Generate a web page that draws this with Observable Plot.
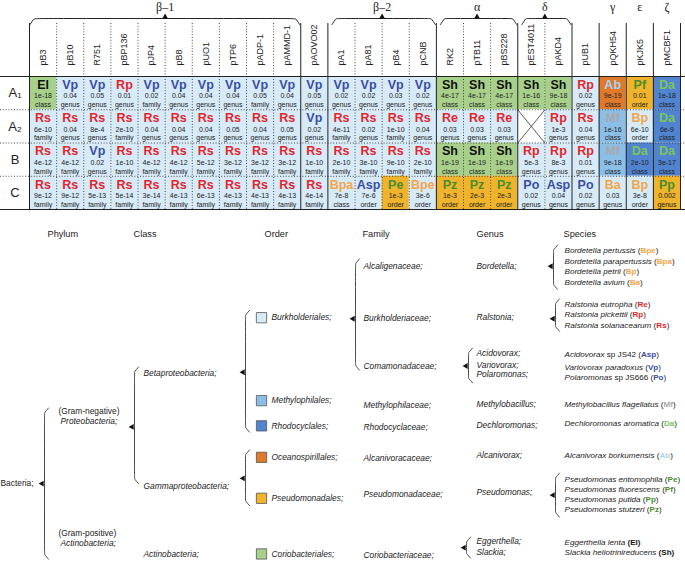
<!DOCTYPE html>
<html><head><meta charset="utf-8">
<script src="https://cdn.jsdelivr.net/npm/d3@7"></script>
<script src="https://cdn.jsdelivr.net/npm/@observablehq/plot@0.6"></script>
<style>
body{margin:0;background:#fff;}
#chart{width:685px;height:566px;overflow:hidden;}
#chart svg{display:block;}
</style></head><body><div id="chart"></div>
<script>
// ---------------- DATA ----------------
const plasmids = ["pB3","pB10","R751","pBP136","pJP4","pB8","pUO1","pTP6","pADP-1","pAMMD-1","pAOVO02","pA1","pA81","pB4","pCNB","RK2","pTB11","pBS228","pEST4011","pAKD4","pUB1","pQKH54","pKJK5","pMCBF1"];
const plasmidGroup = ["b1","b1","b1","b1","b1","b1","b1","b1","b1","b1","aovo","b2","b2","b2","b2","a","a","a","d","d","ub1","g","e","z"];
const groupLabels = [
  {group:"b1", label:"β–1", brace:true},
  {group:"b2", label:"β–2", brace:true},
  {group:"a", label:"α", brace:true},
  {group:"d", label:"δ", brace:true},
  {group:"g", label:"γ", brace:false},
  {group:"e", label:"ε", brace:false},
  {group:"z", label:"ζ", brace:false}
];
const rowLabels = ["A₁","A₂","B","C"];

const hostA1 = ["El","Vp","Vp","Rp","Vp","Vp","Vp","Vp","Vp","Vp","Vp","Vp","Vp","Vp","Vp","Sh","Sh","Sh","Sh","Sh","Rp","Ab","Pf","Da"];
const valA1  = ["1e-18","0.04","0.05","0.01","0.02","0.04","0.04","0.04","0.05","0.04","0.05","0.02","0.02","0.03","0.02","4e-17","4e-17","4e-17","1e-16","9e-18","0.02","9e-19","0.01","1e-18"];
const rankA1 = ["class","genus","genus","genus","family","genus","genus","genus","family","genus","genus","genus","genus","genus","genus","class","class","class","class","class","genus","class","order","class"];

const hostA2 = ["Rs","Rs","Rs","Rs","Rs","Rs","Rs","Rs","Rs","Rs","Vp","Rs","Rs","Rs","Rs","Re","Re","Re",null,"Rp","Rs","Mf","Bp","Da"];
const valA2  = ["6e-10","0.04","8e-4","2e-10","0.04","0.04","0.04","0.05","0.04","0.05","0.02","4e-11","0.02","1e-10","0.04","0.03","0.03","0.03",null,"1e-3","0.04","1e-16","6e-10","6e-9"];
const rankA2 = ["family","genus","genus","family","genus","genus","genus","genus","genus","genus","genus","family","genus","family","genus","genus","genus","genus",null,"genus","genus","class","order","class"];

const hostB = ["Rs","Rs","Vp","Rs","Rs","Rs","Rs","Rs","Rs","Rs","Rs","Rs","Rs","Rs","Rs","Sh","Sh","Sh","Rp","Rp","Rp","Mf","Da","Da"];
const valB  = ["4e-12","4e-12","0.02","1e-10","4e-12","4e-12","5e-12","3e-12","3e-12","3e-12","1e-10","2e-10","3e-10","9e-10","2e-10","1e-19","1e-19","1e-19","5e-3","8e-3","0.01","9e-18","2e-10","3e-17"];
const rankB = ["family","family","genus","family","family","family","family","family","family","family","family","family","family","family","family","class","class","class","genus","genus","genus","class","class","class"];

const hostC = ["Rs","Rs","Rs","Rs","Rs","Rs","Rs","Rs","Rs","Rs","Rs","Bpa","Asp","Pe","Bpe","Pz","Pz","Pz","Po","Asp","Po","Ba","Bp","Pp"];
const valC  = ["9e-12","9e-12","5e-13","5e-14","3e-14","4e-13","6e-13","4e-13","4e-13","4e-13","4e-14","7e-8","7e-6","1e-3","3e-6","1e-3","2e-3","2e-3","0.02","0.04","0.02","0.03","3e-8","0.002"];
const rankC = ["family","family","family","family","family","family","family","family","family","family","family","class","order","order","order","order","order","order","genus","genus","genus","genus","order","genus"];

// taxonomy
const orderOf = {Bpe:"Burkholderiales",Bpa:"Burkholderiales",Bp:"Burkholderiales",Ba:"Burkholderiales",Re:"Burkholderiales",Rp:"Burkholderiales",Rs:"Burkholderiales",Asp:"Burkholderiales",Vp:"Burkholderiales",Po:"Burkholderiales",Mf:"Methylophilales",Da:"Rhodocyclales",Ab:"Oceanospirillales",Pe:"Pseudomonadales",Pf:"Pseudomonadales",Pp:"Pseudomonadales",Pz:"Pseudomonadales",El:"Coriobacteriales",Sh:"Coriobacteriales"};
const orderColor = {Burkholderiales:"#d7eaf7",Methylophilales:"#8cbfe8",Rhodocyclales:"#5083d0",Oceanospirillales:"#df7a2c",Pseudomonadales:"#f0b42c",Coriobacteriales:"#a8d08b"};
const abbrColor = {Bpe:"#f3a548",Bpa:"#f3a548",Bp:"#f3a548",Ba:"#f3a548",Re:"#e2262e",Rp:"#e2262e",Rs:"#e2262e",Asp:"#3a4ea3",Vp:"#3a4ea3",Po:"#3a4ea3",Mf:"#a8a8a8",Da:"#7cc55a",Ab:"#a8d3ee",Pe:"#4a8d2c",Pf:"#4a8d2c",Pp:"#4a8d2c",Pz:"#4a8d2c",El:"#111",Sh:"#111"};

// tree
const treeHeaders = ["Phylum","Class","Order","Family","Genus","Species"];
const phylumGram = ["(Gram-negative)","(Gram-positive)"];
const phylumNames = ["Proteobacteria;","Actinobacteria;"];
const phylumLines = [16.3, 27.9];
const classNames = ["Betaproteobacteria;","Gammaproteobacteria;","Actinobacteria;"];
const classLines = [11.7, 22.5, 28.9];
const orderKeys = ["Burkholderiales","Methylophilales","Rhodocyclales","Oceanospirillales","Pseudomonadales","Coriobacteriales"];
const orderLines = [6.4, 14.3, 16.7, 19.7, 23.6, 28.9];
const familyNames = ["Alcaligenaceae;","Burkholderiaceae;","Comamonadaceae;","Methylophilaceae;","Rhodocyclaceae;","Alcanivoracaceae;","Pseudomonadaceae;","Coriobacteriaceae;"];
const familyLines = [1.5, 6.5, 11.0, 14.7, 16.8, 19.8, 23.2, 29.0];
const genusNames = ["Bordetella;","Ralstonia;","Acidovorax;","Variovorax;","Polaromonas;","Methylobacillus;","Dechloromonas;","Alcanivorax;","Pseudomonas;","Eggerthella;","Slackia;"];
const genusLines = [1.5, 6.4, 9.8, 10.9, 11.8, 14.6, 16.6, 19.5, 23.0, 27.7, 28.7];
const speciesNames = ["Bordetella pertussis","Bordetella parapertussis","Bordetella petrii","Bordetella avium","Ralstonia eutropha","Ralstonia pickettii","Ralstonia solanacearum","Acidovorax sp JS42","Variovorax paradoxus","Polaromonas sp JS666","Methylobacillus flagellatus","Dechloromonas aromatica","Alcanivorax borkumensis","Pseudomonas entomophila","Pseudomonas fluorescens","Pseudomonas putida","Pseudomonas stutzeri","Eggerthella lenta","Slackia heliotrinireducens"];
const speciesAbbr = ["Bpe","Bpa","Bp","Ba","Re","Rp","Rs","Asp","Vp","Po","Mf","Da","Ab","Pe","Pf","Pp","Pz","El","Sh"];
const speciesLines = [0, 1, 2, 3, 5.1, 6.1, 7.1, 9.9, 11.1, 12.1, 14.7, 16.5, 19.5, 21.8, 22.8, 23.7, 24.7, 27.8, 28.8];

// ---------------- LAYOUT ----------------
const FONT = "'Liberation Sans', Arial, Helvetica, sans-serif";
const ROW = 33.25;             // px per table row
const TOP = 76;                // px of table top
const u = px => px / ROW;      // px -> row units (header offsets)
const LINE = 10.5;             // px per tree text line
const TFS = 8.4;               // tree font size
const levelX = {kingdom:0, phylum:58, class:143, orderBox:261, order:271, family:363, genus:476, species:564};
const headerX = [47,133,264,362,476,563];

// ---------------- TABLE ----------------
const hosts = [hostA1, hostA2, hostB, hostC], vals = [valA1, valA2, valB, valC], ranks = [rankA1, rankA2, rankB, rankC];
const cells = [];
rowLabels.forEach((lab, r) => plasmids.forEach((p, i) => cells.push({i, r, host: hosts[r][i], val: vals[r][i], rank: ranks[r][i]})));
const filled = cells.filter(d => d.host);
const empty = cells.filter(d => !d.host);

const bounds = d3.range(plasmids.length + 1).map(i => ({
  i, solid: i === 0 || i === plasmids.length || plasmidGroup[i] !== plasmidGroup[i - 1]
}));
const groups = groupLabels.map(g => {
  const idx = plasmids.map((p, i) => i).filter(i => plasmidGroup[i] === g.group);
  return {...g, s: d3.min(idx), e: d3.max(idx) + 1};
});
const braceY = u(18 - TOP), braceEndY = u(24 - TOP), lineTop = u(23 - TOP);
const hBracePts = [];
groups.filter(g => g.brace).forEach(g => {
  const a = g.s + (g.s === 0 ? 0.02 : 0.15), b = g.e - 0.04, k = 0.15;
  [[a, braceEndY],[a + k, braceY],[a + k, braceY],[b - k, braceY],[b - k, braceY],[b, braceEndY]]
    .forEach(([x, y]) => hBracePts.push({x, y, id: g.group}));
});

const table = Plot.plot({
  width: 685, height: 215, margin: 0,
  x: {domain: [0, plasmids.length], range: [29, 680], axis: null},
  y: {domain: [0, 4], range: [TOP, TOP + 4 * ROW], axis: null},
  style: {fontFamily: FONT, background: "white", overflow: "visible"},
  marks: [
    Plot.rect(filled, {x1: "i", x2: d => d.i + 1, y1: "r", y2: d => d.r + 1, fill: d => orderColor[orderOf[d.host]]}),
    Plot.rect(empty, {x1: "i", x2: d => d.i + 1, y1: "r", y2: d => d.r + 1, fill: "white"}),
    Plot.link(empty, {x1: "i", y1: "r", x2: d => d.i + 1, y2: d => d.r + 1, stroke: "#333", strokeWidth: 0.8}),
    Plot.link(empty, {x1: "i", y1: d => d.r + 1, x2: d => d.i + 1, y2: "r", stroke: "#333", strokeWidth: 0.8}),
    Plot.ruleY([1, 2, 3], {stroke: "#333", strokeWidth: 0.9, strokeDasharray: "1,1.8"}),
    Plot.ruleX(bounds.filter(d => !d.solid), {x: "i", y1: lineTop, y2: 4, stroke: "#333", strokeWidth: 0.9, strokeDasharray: "1,1.8"}),
    Plot.ruleX(bounds.filter(d => d.solid), {x: "i", y1: lineTop, y2: 4, stroke: "#222", strokeWidth: 1}),
    Plot.ruleY([0, 4], {stroke: "#222", strokeWidth: 1.2}),
    // cell texts
    Plot.text(filled, {x: d => d.i + 0.5, y: "r", dy: 8.4, text: "host", fontWeight: "bold", fontSize: 12.5, fill: d => abbrColor[d.host]}),
    Plot.text(filled, {x: d => d.i + 0.5, y: "r", dy: 19.6, text: "val", fontSize: 7, fill: "#222"}),
    Plot.text(filled, {x: d => d.i + 0.5, y: "r", dy: 28.3, text: "rank", fontSize: 7, fill: "#222"}),
    // row labels
    Plot.text(rowLabels, {x: 0, y: (d, r) => r + 0.5, dx: -14.5, text: d => d, fontSize: 13, fill: "#222"}),
    // column labels
    Plot.text(plasmids, {x: (d, i) => i + 0.5, y: 0, dy: -11, rotate: -90, textAnchor: "start", text: d => d, fontSize: 9, fill: "#222"}),
    // group braces
    Plot.line(hBracePts, {x: "x", y: "y", z: "id", curve: "basis", stroke: "#222", strokeWidth: 1}),
    Plot.dot(groups.filter(g => g.brace), {x: d => (d.s + d.e) / 2, y: braceY, dy: -1.5, symbol: "triangle", r: 2.2, fill: "#111", stroke: null}),
    Plot.text(groups, {x: d => (d.s + d.e) / 2, y: u(7 - TOP), text: "label", fontSize: 12, fontFamily: "'Liberation Serif', 'DejaVu Serif', serif", fill: "#222"})
  ]
});

// ---------------- TREE ----------------
const phylum = phylumNames.map((n, k) => ({name: n, gram: phylumGram[k], line: phylumLines[k]}));
const classes = classNames.map((n, k) => ({name: n, line: classLines[k]}));
const orders = orderKeys.map((n, k) => ({key: n, name: n + ";", line: orderLines[k]}));
const families = familyNames.map((n, k) => ({name: n, line: familyLines[k]}));
const genera = genusNames.map((n, k) => ({name: n, line: genusLines[k]}));
const species = speciesNames.map((n, k) => ({name: n, abbr: speciesAbbr[k], line: speciesLines[k]}));

// braces: x (px), y1..y2 (lines), tip (line)
const vBraces = [
  {id:"kingdom", x:44, y1:15.0, y2:29.4, tip:22.2},
  {id:"phylum", x:134, y1:11.1, y2:22.2, tip:16.8},
  {id:"beta", x:245, y1:5.7, y2:17.3, tip:11.6},
  {id:"gamma", x:245, y1:19.0, y2:24.3, tip:21.7},
  {id:"burk", x:355, y1:0.8, y2:11.4, tip:6.5},
  {id:"coma", x:468, y1:9.3, y2:12.6, tip:11.0},
  {id:"corio", x:466, y1:27.3, y2:29.3, tip:28.3},
  {id:"bord", x:553, y1:-0.5, y2:3.7, tip:1.5},
  {id:"rals", x:555, y1:4.6, y2:7.7, tip:6.5},
  {id:"pseu", x:555, y1:21.2, y2:25.4, tip:23.3}
];
const vBracePts = [];
vBraces.forEach(b => {
  const k = 0.45, w = 4;
  [[b.x + w, b.y1],[b.x, b.y1 + k],[b.x, b.y1 + k],[b.x, b.y2 - k],[b.x, b.y2 - k],[b.x + w, b.y2]]
    .forEach(([x, y]) => vBracePts.push({x, y, id: b.id}));
});

const treeH = 566 - 215;
const tree = Plot.plot({
  width: 685, height: treeH, margin: 0,
  x: {domain: [0, 685], range: [0, 685], axis: null},
  y: {domain: [0, 30], range: [250 - 215, 250 - 215 + 30 * LINE], axis: null},
  style: {fontFamily: FONT, background: "white", overflow: "visible"},
  marks: [
    Plot.text(treeHeaders, {x: (d, k) => headerX[k], y: -1.52, text: d => d, textAnchor: "start", fontSize: 9.2, fill: "#222"}),
    Plot.text(["Bacteria;"], {x: levelX.kingdom, y: 22.2, text: d => d, textAnchor: "start", fontSize: TFS, fill: "#222"}),
    Plot.text(phylum, {x: levelX.phylum, y: d => d.line - 0.95, text: "gram", textAnchor: "start", fontSize: TFS, fill: "#222"}),
    Plot.text(phylum, {x: levelX.phylum + 2, y: "line", text: "name", textAnchor: "start", fontSize: TFS, fontStyle: "italic", fill: "#222"}),
    Plot.text(classes, {x: levelX.class, y: "line", text: "name", textAnchor: "start", fontSize: TFS, fontStyle: "italic", fill: "#222"}),
    Plot.dot(orders, {x: levelX.orderBox, y: "line", symbol: "square", r: 5.8, fill: d => orderColor[d.key], stroke: "#555", strokeWidth: 0.8}),
    Plot.text(orders, {x: levelX.order, y: "line", text: "name", textAnchor: "start", fontSize: TFS, fontStyle: "italic", fill: "#222"}),
    Plot.text(families, {x: levelX.family, y: "line", text: "name", textAnchor: "start", fontSize: TFS, fontStyle: "italic", fill: "#222"}),
    Plot.text(genera, {x: levelX.genus, y: "line", text: "name", textAnchor: "start", fontSize: TFS, fontStyle: "italic", fill: "#222"}),
    Plot.text(species, {x: levelX.species, y: "line", text: "name", textAnchor: "start", fontSize: 8.1, fontStyle: "italic", fill: "#222"}),
    Plot.line(vBracePts, {x: "x", y: "y", z: "id", curve: "basis", stroke: "#333", strokeWidth: 0.9}),
    Plot.dot(vBraces, {x: d => d.x - 2.5, y: "tip", symbol: "triangle", rotate: -90, r: 2.2, fill: "#111", stroke: null})
  ]
});

// rich species labels: italic name, upright strain, bold coloured abbreviation
d3.select(tree).selectAll("text").each(function() {
  const k = speciesNames.indexOf(this.textContent);
  if (k < 0) return;
  const d = species[k];
  const t = d3.select(this);
  t.text(null);
  const m = d.name.match(/^(.*?)( sp .*)?$/);
  t.append("tspan").attr("font-style", "italic").text(m[1]);
  if (m[2]) t.append("tspan").attr("font-style", "normal").text(m[2]);
  const bold = d.abbr === "El" || d.abbr === "Sh";
  t.append("tspan").attr("font-style", "normal").attr("font-weight", bold ? "bold" : null).text(" (");
  t.append("tspan").attr("font-style", "normal").attr("font-weight", "bold").attr("fill", abbrColor[d.abbr]).text(d.abbr);
  t.append("tspan").attr("font-style", "normal").attr("font-weight", bold ? "bold" : null).text(")");
});

const root = document.getElementById("chart");
root.appendChild(table);
root.appendChild(tree);
</script>
</body></html>
